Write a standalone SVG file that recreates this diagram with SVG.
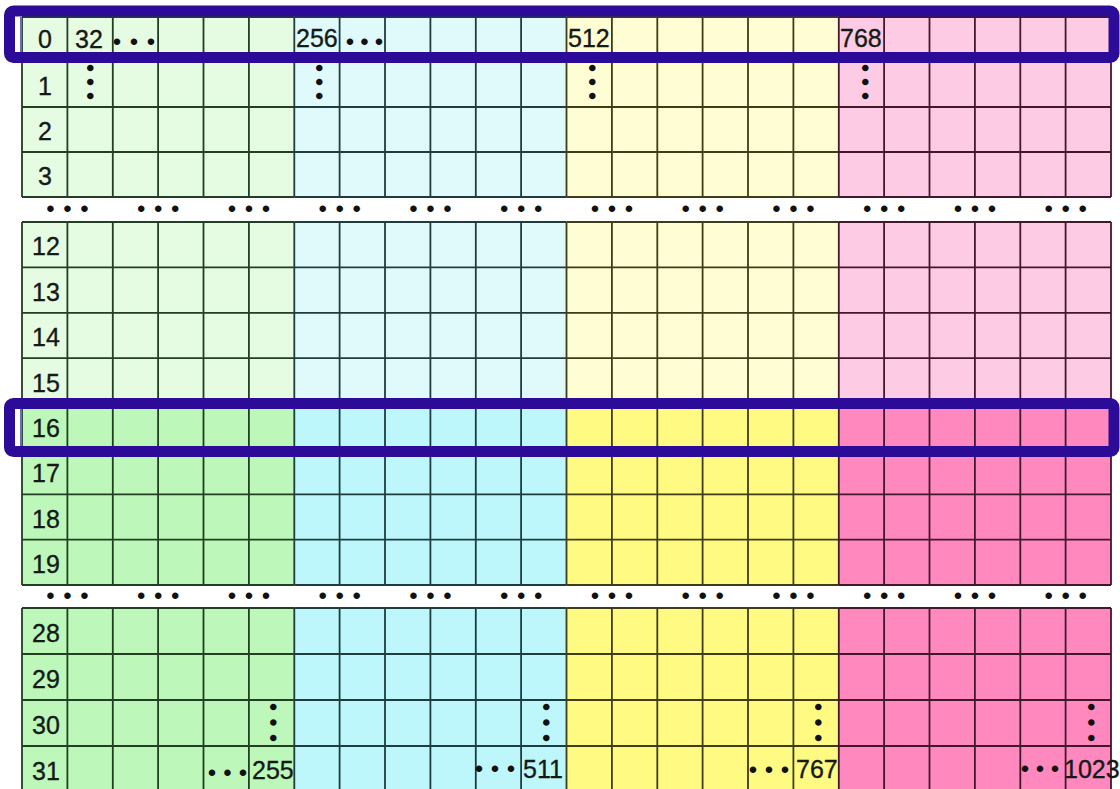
<svg xmlns="http://www.w3.org/2000/svg" width="1120" height="789" viewBox="0 0 1120 789">
<style>
.fg{fill:#E5FBE2}.fb{fill:#E0FAFB}.fy{fill:#FFFDD4}.fp{fill:#FDCCE4}
.dg{fill:#BDF7BA}.db{fill:#BDF7FB}.dy{fill:#FFFA82}.dp{fill:#FF88BF}
.ln{fill:none;stroke-width:1.8}
.lg{stroke:#213f22}.lb{stroke:#1f3c40}.ly{stroke:#3f3c18}.lp{stroke:#44182c}
text{font-family:"Liberation Sans",Arial,sans-serif}
.n{font-size:25px;fill:#161a16;stroke:#161a16;stroke-width:0.35}
.rl{text-anchor:middle}
.d{font-size:24px;fill:#111}
.hl{fill:none;stroke:#2c0b99;stroke-width:11}
.edge{stroke:#6a6ac4;stroke-width:2}
</style>
<rect width="1120" height="789" fill="#ffffff"/>

<g id="block-1">
<rect class="fg" x="22" y="17" width="272.3" height="180"/>
<rect class="fb" x="294.3" y="17" width="272.2" height="180"/>
<rect class="fy" x="566.5" y="17" width="272.3" height="180"/>
<rect class="fp" x="838.8" y="17" width="272.2" height="180"/>
<path class="ln lg" d="M22 17V197M67.4 17V197M112.8 17V197M158.1 17V197M203.5 17V197M248.9 17V197M22 17H294.3M22 62H294.3M22 107H294.3M22 152H294.3M22 197H294.3"/>
<path class="ln lb" d="M294.3 17V197M339.6 17V197M385 17V197M430.4 17V197M475.8 17V197M521.1 17V197M294.3 17H566.5M294.3 62H566.5M294.3 107H566.5M294.3 152H566.5M294.3 197H566.5"/>
<path class="ln ly" d="M566.5 17V197M611.9 17V197M657.3 17V197M702.6 17V197M748 17V197M793.4 17V197M566.5 17H838.8M566.5 62H838.8M566.5 107H838.8M566.5 152H838.8M566.5 197H838.8"/>
<path class="ln lp" d="M838.8 17V197M884.1 17V197M929.5 17V197M974.9 17V197M1020.3 17V197M1065.6 17V197M1111 17V197M838.8 17H1111M838.8 62H1111M838.8 107H1111M838.8 152H1111M838.8 197H1111"/>
</g>

<g id="block-2">
<rect class="fg" x="22" y="222" width="272.3" height="181.5"/>
<rect class="fb" x="294.3" y="222" width="272.2" height="181.5"/>
<rect class="fy" x="566.5" y="222" width="272.3" height="181.5"/>
<rect class="fp" x="838.8" y="222" width="272.2" height="181.5"/>
<rect class="dg" x="22" y="403.5" width="272.3" height="181.5"/>
<rect class="db" x="294.3" y="403.5" width="272.2" height="181.5"/>
<rect class="dy" x="566.5" y="403.5" width="272.3" height="181.5"/>
<rect class="dp" x="838.8" y="403.5" width="272.2" height="181.5"/>
<path class="ln lg" d="M22 222V585M67.4 222V585M112.8 222V585M158.1 222V585M203.5 222V585M248.9 222V585M22 222H294.3M22 267.4H294.3M22 312.8H294.3M22 358.1H294.3M22 403.5H294.3M22 448.9H294.3M22 494.3H294.3M22 539.6H294.3M22 585H294.3"/>
<path class="ln lb" d="M294.3 222V585M339.6 222V585M385 222V585M430.4 222V585M475.8 222V585M521.1 222V585M294.3 222H566.5M294.3 267.4H566.5M294.3 312.8H566.5M294.3 358.1H566.5M294.3 403.5H566.5M294.3 448.9H566.5M294.3 494.3H566.5M294.3 539.6H566.5M294.3 585H566.5"/>
<path class="ln ly" d="M566.5 222V585M611.9 222V585M657.3 222V585M702.6 222V585M748 222V585M793.4 222V585M566.5 222H838.8M566.5 267.4H838.8M566.5 312.8H838.8M566.5 358.1H838.8M566.5 403.5H838.8M566.5 448.9H838.8M566.5 494.3H838.8M566.5 539.6H838.8M566.5 585H838.8"/>
<path class="ln lp" d="M838.8 222V585M884.1 222V585M929.5 222V585M974.9 222V585M1020.3 222V585M1065.6 222V585M1111 222V585M838.8 222H1111M838.8 267.4H1111M838.8 312.8H1111M838.8 358.1H1111M838.8 403.5H1111M838.8 448.9H1111M838.8 494.3H1111M838.8 539.6H1111M838.8 585H1111"/>
</g>

<g id="block-3">
<rect class="dg" x="22" y="608" width="272.3" height="184"/>
<rect class="db" x="294.3" y="608" width="272.2" height="184"/>
<rect class="dy" x="566.5" y="608" width="272.3" height="184"/>
<rect class="dp" x="838.8" y="608" width="272.2" height="184"/>
<path class="ln lg" d="M22 608V792M67.4 608V792M112.8 608V792M158.1 608V792M203.5 608V792M248.9 608V792M22 608H294.3M22 654H294.3M22 700H294.3M22 746H294.3"/>
<path class="ln lb" d="M294.3 608V792M339.6 608V792M385 608V792M430.4 608V792M475.8 608V792M521.1 608V792M294.3 608H566.5M294.3 654H566.5M294.3 700H566.5M294.3 746H566.5"/>
<path class="ln ly" d="M566.5 608V792M611.9 608V792M657.3 608V792M702.6 608V792M748 608V792M793.4 608V792M566.5 608H838.8M566.5 654H838.8M566.5 700H838.8M566.5 746H838.8"/>
<path class="ln lp" d="M838.8 608V792M884.1 608V792M929.5 608V792M974.9 608V792M1020.3 608V792M1065.6 608V792M1111 608V792M838.8 608H1111M838.8 654H1111M838.8 700H1111M838.8 746H1111"/>
</g>

<g id="row-labels" class="n rl">
<text x="45" y="48">0</text>
<text x="45" y="95">1</text>
<text x="45" y="140">2</text>
<text x="45" y="185">3</text>
<text x="46" y="255.4">12</text>
<text x="46" y="300.8">13</text>
<text x="46" y="346.1">14</text>
<text x="46" y="391.5">15</text>
<text x="46" y="436.9">16</text>
<text x="46" y="482.3">17</text>
<text x="46" y="527.6">18</text>
<text x="46" y="573">19</text>
<text x="46" y="642">28</text>
<text x="46" y="688">29</text>
<text x="46" y="734">30</text>
<text x="46" y="780">31</text>
</g>

<g id="address-labels" class="n">
<text x="75" y="48">32</text>
<text x="296" y="47">256</text>
<text x="568" y="47">512</text>
<text x="840" y="47">768</text>
<text x="252" y="779">255</text>
<text x="523" y="778">511</text>
<text x="796" y="778">767</text>
<text x="1064" y="778">1023</text>
</g>

<g id="ellipses" class="d">
<g id="gap-dots-1">
<text x="46.2" y="217" dx="0 8.6 8.6">•••</text>
<text x="136.9" y="217" dx="0 8.6 8.6">•••</text>
<text x="227.7" y="217" dx="0 8.6 8.6">•••</text>
<text x="318.4" y="217" dx="0 8.6 8.6">•••</text>
<text x="409.2" y="217" dx="0 8.6 8.6">•••</text>
<text x="499.9" y="217" dx="0 8.6 8.6">•••</text>
<text x="590.7" y="217" dx="0 8.6 8.6">•••</text>
<text x="681.4" y="217" dx="0 8.6 8.6">•••</text>
<text x="772.2" y="217" dx="0 8.6 8.6">•••</text>
<text x="862.9" y="217" dx="0 8.6 8.6">•••</text>
<text x="953.7" y="217" dx="0 8.6 8.6">•••</text>
<text x="1044.4" y="217" dx="0 8.6 8.6">•••</text>
</g>
<g id="gap-dots-2">
<text x="46.2" y="604" dx="0 8.6 8.6">•••</text>
<text x="136.9" y="604" dx="0 8.6 8.6">•••</text>
<text x="227.7" y="604" dx="0 8.6 8.6">•••</text>
<text x="318.4" y="604" dx="0 8.6 8.6">•••</text>
<text x="409.2" y="604" dx="0 8.6 8.6">•••</text>
<text x="499.9" y="604" dx="0 8.6 8.6">•••</text>
<text x="590.7" y="604" dx="0 8.6 8.6">•••</text>
<text x="681.4" y="604" dx="0 8.6 8.6">•••</text>
<text x="772.2" y="604" dx="0 8.6 8.6">•••</text>
<text x="862.9" y="604" dx="0 8.6 8.6">•••</text>
<text x="953.7" y="604" dx="0 8.6 8.6">•••</text>
<text x="1044.4" y="604" dx="0 8.6 8.6">•••</text>
</g>
<g id="inline-dots">
<text x="112.8" y="50" dx="0 8.6 8.6">•••</text>
<text x="345.8" y="50" dx="0 6.1 6.1">•••</text>
<text x="207.8" y="781" dx="0 7.1 7.1">•••</text>
<text x="474.8" y="777" dx="0 7.6 7.6">•••</text>
<text x="748.8" y="778" dx="0 7.6 7.6">•••</text>
<text x="1020.8" y="777" dx="0 6.6 6.6">•••</text>
</g>
<g id="vertical-dots">
<text x="85.3" y="76" dx="0 5.6 5.6" transform="rotate(90 89.5 68)">•••</text>
<text x="314.8" y="76" dx="0 5.6 5.6" transform="rotate(90 319 68)">•••</text>
<text x="587.8" y="76" dx="0 5.6 5.6" transform="rotate(90 592 68)">•••</text>
<text x="860.8" y="76" dx="0 5.6 5.6" transform="rotate(90 865 68)">•••</text>
<text x="268.8" y="715" dx="0 7.1 7.1" transform="rotate(90 273 707)">•••</text>
<text x="541.8" y="715" dx="0 7.1 7.1" transform="rotate(90 546 707)">•••</text>
<text x="813.8" y="715" dx="0 7.1 7.1" transform="rotate(90 818 707)">•••</text>
<text x="1086.8" y="715" dx="0 7.1 7.1" transform="rotate(90 1091 707)">•••</text>
</g>
</g>

<g id="highlight-row-0">
<path class="edge" d="M21 17V52M1110.5 17V52"/>
<rect class="hl" x="9.5" y="11" width="1104.5" height="46.5" rx="4"/>
</g>
<g id="highlight-row-16">
<path class="edge" d="M21 409V446M1110.5 409V446"/>
<rect class="hl" x="9.5" y="403.5" width="1104.5" height="48" rx="4"/>
</g>
</svg>
